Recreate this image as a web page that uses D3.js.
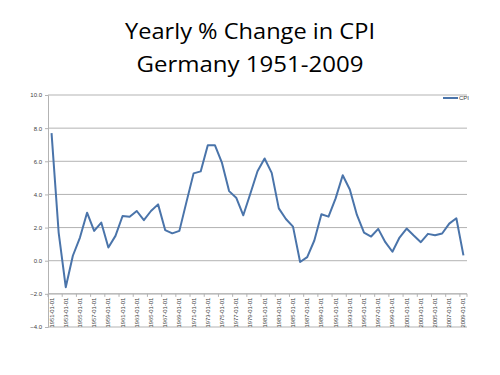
<!DOCTYPE html>
<html>
<head>
<meta charset="utf-8">
<script src="https://cdn.jsdelivr.net/npm/d3@7"></script>
<style>
  body { margin: 0; background: #fff; }
  svg { display: block; }
</style>
</head>
<body>
<svg id="chart" width="500" height="375"></svg>
<script>
// yearly % change in CPI
const years = d3.range(1951, 2010);
const cpi = [
  7.7, 1.7, -1.6, 0.3, 1.4, 2.9, 1.8, 2.3, 0.8, 1.5,
  2.7, 2.65, 3.0, 2.45, 3.0, 3.4, 1.85, 1.65, 1.8, 3.55,
  5.27, 5.39, 6.97, 6.97, 5.9, 4.2, 3.8, 2.74, 4.06, 5.4,
  6.17, 5.3, 3.16, 2.52, 2.06, -0.08, 0.22, 1.22, 2.8, 2.66,
  3.76, 5.16, 4.3, 2.76, 1.7, 1.46, 1.92, 1.12, 0.54, 1.4,
  1.94, 1.52, 1.12, 1.62, 1.54, 1.64, 2.24, 2.56, 0.32
];
const yTicks = [-4, -2, 0, 2, 4, 6, 8, 10];
const titleLines = ["Yearly % Change in CPI", "Germany 1951-2009"];
const titleWidths = [250, 227];
const seriesName = "CPI";

const svg = d3.select("#chart");

// title
svg.selectAll("text.title")
  .data(titleLines)
  .enter().append("text")
  .attr("class", "title")
  .attr("x", 250)
  .attr("y", (d, i) => 39 + i * 33)
  .attr("text-anchor", "middle")
  .attr("textLength", (d, i) => titleWidths[i])
  .attr("lengthAdjust", "spacingAndGlyphs")
  .style("font-family", "'Open Sans', sans-serif")
  .style("font-size", "21px")
  .style("fill", "#000")
  .text(d => d);

const x = d3.scaleBand().domain(years).range([48, 467]);
const y = d3.scaleLinear().domain([-4, 10]).range([327, 95]);

// gridlines
svg.append("g")
  .selectAll("line")
  .data(yTicks)
  .enter().append("line")
  .attr("x1", 48).attr("x2", 467)
  .attr("y1", d => y(d)).attr("y2", d => y(d))
  .style("stroke", "#b3b3b3")
  .style("stroke-width", 1);

// y axis
const yAxis = svg.append("g")
  .attr("transform", "translate(48,0)")
  .call(d3.axisLeft(y).tickValues(yTicks).tickFormat(d3.format(".1f")).tickSize(3).tickPadding(3));
yAxis.select(".domain").style("stroke", "#b3b3b3");
yAxis.selectAll(".tick line").style("stroke", "#b3b3b3");
yAxis.selectAll("text")
  .style("font-family", "'Liberation Sans', sans-serif")
  .style("font-size", "6px")
  .style("fill", "#404040");

// x axis crosses at -2
const labelYears = years.filter((d, i) => i % 2 == 0);
const xg = svg.append("g").attr("transform", "translate(0," + y(-2) + ")");
xg.append("line")
  .attr("x1", 48).attr("x2", 467)
  .style("stroke", "#b3b3b3");
xg.selectAll("line.tk")
  .data(labelYears.concat([2011]))
  .enter().append("line")
  .attr("class", "tk")
  .attr("x1", d => d == 2011 ? 467 : x(d))
  .attr("x2", d => d == 2011 ? 467 : x(d))
  .attr("y1", 0).attr("y2", 3)
  .style("stroke", "#b3b3b3");
xg.selectAll("text")
  .data(labelYears)
  .enter().append("text")
  .attr("transform", d => "translate(" + (x(d) + x.bandwidth() / 2 + 2) + ",4) rotate(-90)")
  .attr("text-anchor", "end")
  .style("font-family", "'Liberation Sans', sans-serif")
  .style("font-size", "5.8px")
  .style("fill", "#404040")
  .text(d => d + "-01-01");

// line
const line = d3.line()
  .x((d, i) => x(years[i]) + x.bandwidth() / 2)
  .y(d => y(d));

svg.append("path")
  .datum(cpi)
  .attr("d", line)
  .style("fill", "none")
  .style("stroke", "#4a74aa")
  .style("stroke-width", 2)
  .style("stroke-linejoin", "round");

// legend
svg.append("line")
  .attr("x1", 443).attr("x2", 458)
  .attr("y1", 98).attr("y2", 98)
  .style("stroke", "#4a74aa")
  .style("stroke-width", 2);
svg.append("text")
  .attr("x", 459).attr("y", 100)
  .style("font-family", "'Liberation Sans', sans-serif")
  .style("font-size", "6px")
  .style("fill", "#404040")
  .text(seriesName);
</script>
</body>
</html>
